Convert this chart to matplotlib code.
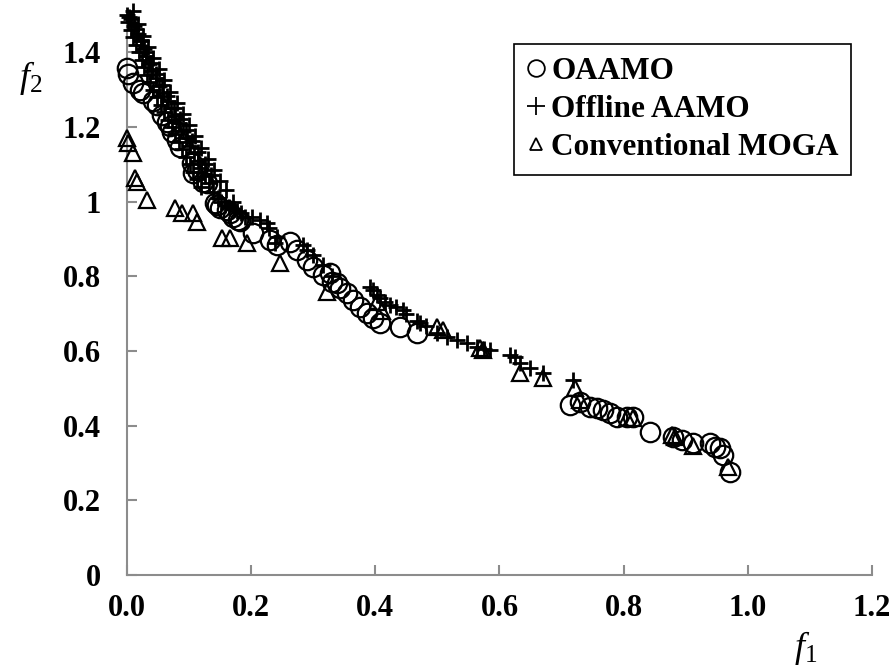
import matplotlib

matplotlib.use("Agg")
import matplotlib.pyplot as plt
from matplotlib.lines import Line2D
from matplotlib.ticker import FuncFormatter

# OAAMO (circles)
oaamo_f1 = [0.000, 0.002, 0.010, 0.021, 0.026, 0.042, 0.048, 0.056, 0.064, 0.069,
            0.072, 0.080, 0.085, 0.105, 0.106, 0.113, 0.122, 0.129, 0.142, 0.145,
            0.150, 0.161, 0.166, 0.171, 0.179, 0.182, 0.203, 0.230, 0.241, 0.262,
            0.274, 0.290, 0.300, 0.316, 0.327, 0.330, 0.338, 0.343, 0.354, 0.364,
            0.375, 0.386, 0.396, 0.407, 0.440, 0.467,
            0.713, 0.730, 0.745, 0.757, 0.767, 0.778, 0.789, 0.805, 0.815, 0.842,
            0.879, 0.894, 0.912, 0.939, 0.947, 0.955, 0.960, 0.971]
oaamo_f2 = [1.357, 1.343, 1.317, 1.300, 1.290, 1.270, 1.258, 1.231, 1.213, 1.204,
            1.186, 1.164, 1.146, 1.103, 1.076, 1.084, 1.052, 1.049, 0.996, 0.990,
            0.982, 0.977, 0.969, 0.958, 0.950, 0.948, 0.915, 0.897, 0.883, 0.891,
            0.870, 0.843, 0.824, 0.803, 0.808, 0.784, 0.782, 0.768, 0.755, 0.736,
            0.717, 0.701, 0.688, 0.675, 0.664, 0.648,
            0.455, 0.463, 0.450, 0.447, 0.442, 0.434, 0.423, 0.423, 0.423, 0.383,
            0.369, 0.361, 0.353, 0.353, 0.343, 0.340, 0.321, 0.276]

# Offline AAMO (plus signs)
offline_f1 = [0.000, 0.006, 0.002, 0.012, 0.006, 0.018, 0.010, 0.022, 0.014, 0.027,
              0.019, 0.031, 0.024, 0.036, 0.028, 0.041, 0.032, 0.046, 0.037, 0.052,
              0.042, 0.058, 0.048, 0.066, 0.054, 0.071, 0.060, 0.077, 0.066, 0.084,
              0.072, 0.090, 0.078, 0.096, 0.084, 0.102, 0.089, 0.108, 0.095, 0.114,
              0.101, 0.120, 0.107, 0.126, 0.113, 0.132, 0.120, 0.139, 0.146, 0.152,
              0.158, 0.165, 0.172, 0.178, 0.184,
              0.010, 0.018, 0.026, 0.034, 0.042, 0.051, 0.060, 0.070, 0.080, 0.090,
              0.100, 0.110, 0.120, 0.130, 0.140, 0.150, 0.160, 0.170,
              0.004, 0.015, 0.023, 0.031, 0.039, 0.047, 0.056, 0.065, 0.075, 0.085,
              0.095, 0.105, 0.115, 0.125, 0.135,
              0.190, 0.201, 0.214, 0.225, 0.228, 0.241, 0.238, 0.283, 0.290, 0.300,
              0.315, 0.330, 0.391, 0.396, 0.402, 0.407, 0.415, 0.424, 0.434, 0.445,
              0.450, 0.467, 0.472, 0.482, 0.499, 0.515, 0.531, 0.547, 0.564, 0.575,
              0.585, 0.617, 0.625, 0.633, 0.649, 0.670, 0.718]
offline_f2 = [1.500, 1.490, 1.480, 1.470, 1.460, 1.450, 1.440, 1.430, 1.420, 1.410,
              1.400, 1.390, 1.380, 1.370, 1.360, 1.350, 1.340, 1.330, 1.320, 1.310,
              1.300, 1.290, 1.280, 1.270, 1.260, 1.250, 1.240, 1.230, 1.220, 1.210,
              1.200, 1.190, 1.180, 1.170, 1.160, 1.150, 1.140, 1.130, 1.120, 1.110,
              1.100, 1.090, 1.080, 1.070, 1.060, 1.050, 1.040, 1.025, 1.010, 1.000,
              0.990, 0.985, 0.980, 0.975, 0.970,
              1.510, 1.475, 1.445, 1.415, 1.385, 1.355, 1.325, 1.295, 1.265, 1.235,
              1.205, 1.175, 1.145, 1.115, 1.085, 1.055, 1.030, 1.000,
              1.495, 1.462, 1.432, 1.402, 1.372, 1.342, 1.312, 1.282, 1.252, 1.222,
              1.192, 1.162, 1.132, 1.102, 1.072,
              0.960, 0.958, 0.950, 0.942, 0.930, 0.905, 0.890, 0.883, 0.870, 0.857,
              0.830, 0.800, 0.772, 0.763, 0.750, 0.742, 0.730, 0.723, 0.717, 0.709,
              0.700, 0.680, 0.674, 0.668, 0.648, 0.637, 0.629, 0.621, 0.610, 0.605,
              0.602, 0.590, 0.583, 0.567, 0.554, 0.540, 0.522]

# Conventional MOGA (triangles)
moga_f1 = [0.000, 0.002, 0.010, 0.013, 0.016, 0.032, 0.077, 0.089, 0.106, 0.113,
           0.153, 0.166, 0.193, 0.246, 0.322, 0.402, 0.410, 0.499, 0.509, 0.568,
           0.573, 0.633, 0.670, 0.721, 0.730, 0.805, 0.815, 0.878, 0.882, 0.912,
           0.968]
moga_f2 = [1.170, 1.156, 1.130, 1.063, 1.052, 1.004, 0.982, 0.969, 0.969, 0.945,
           0.902, 0.902, 0.889, 0.835, 0.757, 0.732, 0.706, 0.664, 0.656, 0.608,
           0.602, 0.541, 0.527, 0.500, 0.468, 0.420, 0.420, 0.375, 0.370, 0.345,
           0.289]

X_TICKS = [0.0, 0.2, 0.4, 0.6, 0.8, 1.0, 1.2]
Y_TICKS = [0.0, 0.2, 0.4, 0.6, 0.8, 1.0, 1.2, 1.4]

plt.rcParams["font.family"] = "Liberation Serif"
plt.rcParams["mathtext.fontset"] = "custom"
plt.rcParams["mathtext.rm"] = "Liberation Serif"
plt.rcParams["mathtext.it"] = "Liberation Serif:italic"

fig = plt.figure(figsize=(8.93, 6.70), dpi=100)
ax = fig.add_axes([0.1422, 0.1418, 0.8343, 0.8358])

ax.plot(oaamo_f1, oaamo_f2, linestyle="none", marker="o", markersize=14,
        markerfacecolor="none", markeredgecolor="black", markeredgewidth=1.6,
        clip_on=False, zorder=3)
ax.plot(offline_f1, offline_f2, linestyle="none", marker="+", markersize=12,
        markeredgecolor="black", markeredgewidth=2.0, clip_on=False, zorder=3)
ax.plot(moga_f1, moga_f2, linestyle="none", marker="^", markersize=11,
        markerfacecolor="none", markeredgecolor="black", markeredgewidth=1.6,
        clip_on=False, zorder=4)

ax.set_xlim(0, 1.2)
ax.set_ylim(0, 1.5)
ax.set_xticks(X_TICKS)
ax.set_yticks(Y_TICKS)
ax.xaxis.set_major_formatter(FuncFormatter(lambda v, p: f"{v:.1f}"))
ax.yaxis.set_major_formatter(
    FuncFormatter(lambda v, p: f"{v:.0f}" if abs(v - round(v)) < 1e-9 else f"{v:.1f}"))

for side in ("top", "right"):
    ax.spines[side].set_visible(False)
for side in ("left", "bottom"):
    ax.spines[side].set_color("#8c8c8c")
    ax.spines[side].set_linewidth(1.5)
ax.tick_params(direction="in", length=7, width=1.5, color="#8c8c8c",
               labelsize=22, labelcolor="black")
ax.tick_params(axis="x", pad=14)
ax.tick_params(axis="y", pad=19)
for lab in ax.get_xticklabels() + ax.get_yticklabels():
    lab.set_fontweight("bold")

fig.text(0.034, 0.883, "$f_2$", fontsize=26, ha="center", va="center")
fig.text(0.902, 0.033, "$f_1$", fontsize=26, ha="center", va="center")

handles = [
    Line2D([], [], linestyle="none", marker="o", markersize=12,
           markerfacecolor="none", markeredgecolor="black", markeredgewidth=1.3),
    Line2D([], [], linestyle="none", marker="+", markersize=13,
           markeredgecolor="black", markeredgewidth=1.3),
    Line2D([], [], linestyle="none", marker="^", markersize=8,
           markerfacecolor="none", markeredgecolor="black", markeredgewidth=1.3),
]
leg = ax.legend(handles, ["OAAMO", "Offline AAMO", "Conventional MOGA"],
                loc="upper right", bbox_to_anchor=(0.972, 0.948),
                prop={"family": "Liberation Serif", "weight": "bold", "size": 22.5},
                frameon=True, fancybox=False, framealpha=1, edgecolor="black",
                handlelength=0.6, handletextpad=0.2, labelspacing=0.3,
                borderpad=0.4, borderaxespad=0)
leg.get_frame().set_linewidth(1.2)

fig.savefig("out.png", dpi=100)
